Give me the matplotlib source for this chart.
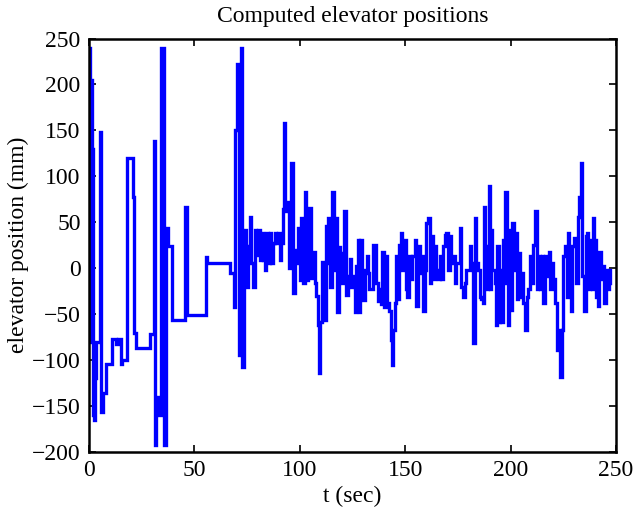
import matplotlib
matplotlib.use("Agg")
import matplotlib.pyplot as plt

# time (s) and elevator position (mm), zero-order-hold samples
t_early = [0.0, 0.4, 0.8, 1.3, 1.7, 2.4, 2.9, 3.4, 5.2, 5.9, 6.8, 8.3, 10.7, 12.6,
           13.9, 15.2, 15.8, 18.2, 21.0, 21.4, 22.1, 28.9, 30.8, 31.2, 31.7, 32.5,
           34.3, 35.8, 36.3, 37.4, 39.5, 45.6, 46.5, 55.5, 56.0, 66.8, 68.9, 69.4,
           70.3, 71.3, 72.0, 72.7, 73.3]
v_early = [240, -80, 205, 130, -160, -165, -120, -80, 148, -156, -136, -104, -77, -82,
           -77, -104, -100, 120, 78, -71, -87, -72, 138, -192, -140, -160,
           240, -192, 44, 24, -56, 67, -51, 12, 6, -5, -42, 150,
           222, -94, 240, -108, 37]

t_mid = [73.9, 74.6, 75.4, 76.2, 77.0, 77.8, 78.6, 79.4, 80.2, 81.0, 81.7, 82.5, 83.3,
         84.1, 84.9, 85.7, 86.5, 87.3, 88.1, 88.9, 89.6, 90.4, 91.2, 92.0, 92.5, 93.0,
         93.6, 94.4, 95.1, 95.9, 96.7, 97.5, 98.3, 99.1, 99.9, 100.7, 101.5, 102.3,
         103.1, 103.7, 104.3, 105.4, 106.2, 107.0, 107.8, 108.6, 109.1, 109.7, 110.6,
         111.4, 112.2, 113.0, 113.6, 114.4, 115.4, 116.0, 116.9, 117.6, 118.4, 119.3,
         120.4, 121.2, 122.0, 122.8, 123.6, 124.4, 125.2, 126.0, 126.7, 127.4]
v_mid = [42, -20, 24, 56, 6, -20, 42, 14, 42, 9, 38, 9, -2,
         38, 6, 38, 6, 27, 38, 27, 38, 9, 27, 64, 158, 70,
         62, 72, 0, 114, -27, 20, 6, 44, -13, 55, -16, 83,
         -13, 20, 65, -11, 18, -16, -30, -62, -114, -58, 7,
         -56, 46, 6, 55, -20, 83, -2, 55, -48, 23, -16,
         17, 62, -29, -9, 10, -20, -9, -48, 2, 31]

t_late = [127.9, 128.6, 129.3, 130.2, 130.8, 131.8, 132.4, 133.0, 134.8, 135.6, 136.1,
          136.9, 137.6, 138.4, 139.2, 140.0, 140.8, 141.6, 142.4, 143.2, 143.6, 144.3,
          145.1, 145.5, 146.3, 147.1, 147.9, 148.7, 149.5, 150.2, 151.0, 151.8, 152.6,
          153.4, 154.5, 155.3, 156.1, 156.9, 157.7, 158.5, 159.3, 160.0, 160.8, 161.6,
          162.4, 163.2, 164.0, 164.8, 165.6, 166.4, 167.2, 168.0, 168.8, 169.5, 170.3,
          171.1, 171.9, 172.7, 173.5, 174.3, 175.0, 175.8, 176.6, 177.4, 178.2, 179.0,
          179.8, 180.6, 181.4, 182.1, 182.9, 183.7, 184.5, 185.3, 186.1, 186.9, 187.3,
          188.1]
v_late = [-48, 31, -16, -35, -2, 13, -5, -23, 25, 25, -16,
          -36, -23, -39, 18, -42, 13, -38, -47, -78, -105, -67,
          -38, 13, -34, 25, 38, -2, 31, -23, -31, 13, -12,
          13, 31, -41, 24, -5, 13, -47, -2, 49, 55, -16,
          35, -12, 24, -2, -12, 13, -12, 24, 36, 38, -2,
          35, 6, 13, -16, 6, 6, 44, -20, -31, -16, -2,
          -2, 24, 6, -81, 55, 6, -2, -31, -34, -38, 67,
          -2]

t_end = [188.4, 189.2, 189.9, 190.3, 190.8, 191.4, 192.4, 193.0, 193.6, 194.3, 195.1,
         195.6, 196.2, 196.8, 197.4, 198.1, 198.6, 199.3, 199.9, 200.6, 201.4, 202.2,
         202.9, 203.7, 204.5, 205.3, 206.1, 206.9, 207.7, 208.5, 209.2, 210.0, 210.8,
         211.6, 212.4, 213.2, 214.0, 214.8, 215.6, 216.4, 217.2, 218.0, 218.7, 219.5,
         220.3, 221.1, 221.9, 223.0, 223.5, 224.3, 225.1, 225.8, 226.6, 227.1, 227.7,
         228.5, 229.3, 230.2, 231.0, 231.8, 232.6, 233.4, 234.0, 234.8, 235.6, 236.2,
         236.9, 237.7, 238.5, 238.9, 239.7, 240.5, 241.3, 242.1, 242.9, 243.7, 244.5,
         245.1, 245.9, 246.7, 247.1]
v_end = [-23, 24, 89, -23, 42, -2, -16, -62, 24, -58, -2,
         -58, 31, -16, 83, -2, -62, 42, -45, 49, -2, 38,
         -34, 17, -31, -5, -38, -67, -31, -23, 13, -16, 25,
         62, -23, 13, -23, 13, -38, 13, -9, 18, -23, 6,
         -12, -38, -89, -67, -118, -67, 13, 24, -31, 38, -2,
         -47, 24, 33, -16, 56, 78, 114, -9, -47, 35, 38,
         -23, 31, -23, 55, 31, -31, -41, 18, -12, 2, -38,
         -2, -23, -2, -16]

t = t_early + t_mid + t_late + t_end
v = v_early + v_mid + v_late + v_end

x_ticks = [0, 50, 100, 150, 200, 250]
y_ticks = [-200, -150, -100, -50, 0, 50, 100, 150, 200, 250]

plt.rcParams['font.family'] = ['Liberation Serif', 'DejaVu Serif']
plt.rcParams['axes.unicode_minus'] = True

fig = plt.figure(figsize=(6.33, 5.12), dpi=100)
ax = fig.add_axes([0.1406, 0.1172, 0.8325, 0.8076])
ax.plot(t, v, color=(0, 0, 1), lw=2.4, drawstyle='steps-post', solid_joinstyle='miter')

ax.set_xlim(0, 250)
ax.set_ylim(-200, 250)
ax.set_xticks(x_ticks)
ax.set_yticks(y_ticks)
ax.tick_params(direction='in', length=5, width=1.2, top=True, right=True,
               labelsize=17, pad=6, colors='black')
for s in ax.spines.values():
    s.set_linewidth(1.8)
ax.set_title('Computed elevator positions', fontsize=17, pad=12)
ax.set_xlabel('t (sec)', fontsize=17, labelpad=3)
ax.set_ylabel('elevator position (mm)', fontsize=17, labelpad=2)

fig.savefig('out.png', dpi=100)
